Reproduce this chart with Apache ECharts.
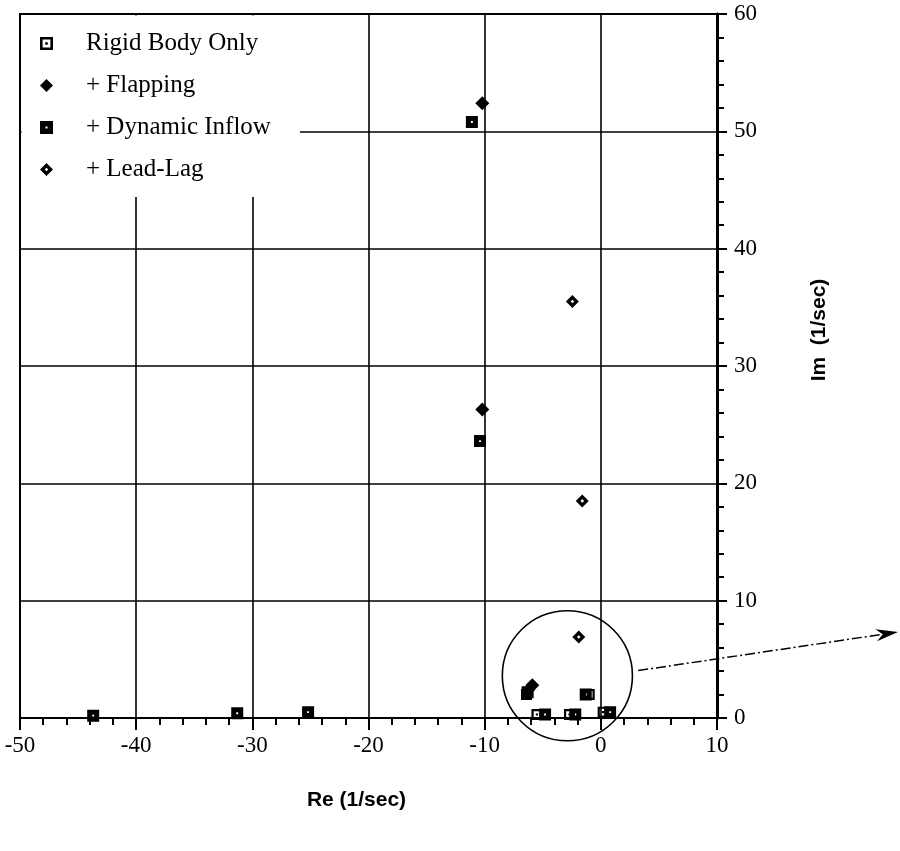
<!DOCTYPE html>
<html>
<head>
<meta charset="utf-8">
<script src="https://cdn.jsdelivr.net/npm/echarts/dist/echarts.min.js"></script>
<style>
  html, body { margin: 0; padding: 0; background: #fff; }
  #chart { width: 900px; height: 851px; }
</style>
</head>
<body>
<div id="chart"></div>
<script>
// Eigenvalue locations (Re, Im) in 1/sec for each model refinement
const seriesNames = ['Rigid Body Only', '+ Flapping', '+ Dynamic Inflow', '+ Lead-Lag'];
const rigidBody = [[-1.0, 2.0], [-6.4, 2.0], [-5.5, 0.3], [-2.7, 0.3], [0.2, 0.5]];
const flapping = [[-10.2, 52.4], [-10.2, 26.3], [-5.9, 2.8]];
const dynamicInflow = [[-11.1, 50.8], [-10.4, 23.6], [-43.7, 0.2], [-31.3, 0.4], [-25.2, 0.5],
                       [-6.3, 2.2], [-4.8, 0.3], [-2.2, 0.3], [0.8, 0.5], [-1.3, 2.0]];
const leadLag = [[-2.45, 35.5], [-1.6, 18.5], [-1.9, 6.9], [-6.2, 2.4]];

// Axis ranges and tick steps
const xTicks = [-50, -40, -30, -20, -10, 0, 10];
const yTicks = [0, 10, 20, 30, 40, 50, 60];

// Marker shapes: hollow square with dot, filled diamond, thick square, hollow diamond
const symRigid = 'path://M0,0 H10 V10 H0 Z M2,2 V8 H8 V2 Z M4,4 H6 V6 H4 Z';
const symFlap = 'path://M5,0 L10,5 L5,10 L0,5 Z';
const symInflow = 'path://M0,0 H10 V10 H0 Z M4.2,4.2 V5.8 H5.8 V4.2 Z';
const symLag = 'path://M5,0 L10,5 L5,10 L0,5 Z M5,3.6 L3.6,5 L5,6.4 L6.4,5 Z';

const serif = 'Liberation Serif';
const sans = 'Liberation Sans';

const chart = echarts.init(document.getElementById('chart'), null, { renderer: 'canvas' });

const mk = (name, data, symbol, size) => ({
  name, type: 'scatter', data, symbol, symbolSize: size,
  itemStyle: { color: '#000', opacity: 1 },
  emphasis: { disabled: true }, z: 3
});

chart.setOption({
  animation: false,
  backgroundColor: '#fff',
  grid: {
    left: 20, right: 183, top: 14, bottom: 133,
    show: true, borderColor: '#000', borderWidth: 2,
    outerBoundsMode: 'none', containLabel: false
  },
  legend: {
    orient: 'vertical', left: 35, top: 26,
    itemWidth: 13, itemHeight: 13, itemGap: 17,
    data: [
      { name: seriesNames[0], icon: symRigid },
      { name: seriesNames[1], icon: symFlap },
      { name: seriesNames[2], icon: symInflow },
      { name: seriesNames[3], icon: symLag }
    ],
    textStyle: { fontFamily: serif, fontSize: 25, color: '#000', lineHeight: 25, padding: [0, 0, 0, 28] },
    selectedMode: false, z: 5
  },
  xAxis: {
    type: 'value',
    min: xTicks[0], max: xTicks[xTicks.length - 1], interval: xTicks[1] - xTicks[0],
    name: 'Re (1/sec)', nameLocation: 'middle', nameGap: 72,
    nameTextStyle: { fontFamily: sans, fontWeight: 'bold', fontSize: 21, color: '#000', padding: [0, 24, 0, 0] },
    axisLine: { onZero: false, lineStyle: { color: '#000', width: 2 } },
    axisTick: { show: true, inside: false, length: 12, lineStyle: { color: '#000', width: 2 } },
    minorTick: { show: true, splitNumber: 5, length: 7, lineStyle: { color: '#000', width: 2 } },
    axisLabel: { fontFamily: serif, fontSize: 23, color: '#000', margin: 16 },
    splitLine: { show: true, lineStyle: { color: '#000', width: 1.6 } }
  },
  yAxis: {
    type: 'value', position: 'right',
    min: yTicks[0], max: yTicks[yTicks.length - 1], interval: yTicks[1] - yTicks[0],
    name: 'Im  (1/sec)', nameLocation: 'middle', nameGap: 92, nameRotate: 90,
    nameTextStyle: { fontFamily: sans, fontWeight: 'bold', fontSize: 21, color: '#000', padding: [0, 0, 0, 72] },
    axisLine: { onZero: false, lineStyle: { color: '#000', width: 3 } },
    axisTick: { show: true, inside: false, length: 10, lineStyle: { color: '#000', width: 2 } },
    minorTick: { show: true, splitNumber: 5, length: 7, lineStyle: { color: '#000', width: 2 } },
    axisLabel: { fontFamily: serif, fontSize: 23, color: '#000', margin: 17 },
    splitLine: { show: true, lineStyle: { color: '#000', width: 1.6 } }
  },
  series: [
    mk(seriesNames[0], rigidBody, symRigid, 11),
    mk(seriesNames[1], flapping, symFlap, 14),
    mk(seriesNames[2], dynamicInflow, symInflow, 12),
    mk(seriesNames[3], leadLag, symLag, 13)
  ]
});

// Legend panel, zoom circle around the slow modes and the pointer arrow
function drawOverlay() {
  const px = (p) => chart.convertToPixel({ gridIndex: 0 }, p);
  const tl = px([-50, 60]);
  const br = px([-25.9, 44.4]);
  const c = px([-2.88, 3.6]);
  const r = px([-2.88 + 5.6, 3.6])[0] - c[0];
  const ang = -0.08;
  const start = [c[0] + r * Math.cos(ang) + 6, c[1] + r * Math.sin(ang)];
  const end = [898, 632];
  const dx = end[0] - start[0], dy = end[1] - start[1];
  const len = Math.hypot(dx, dy), ux = dx / len, uy = dy / len;
  const hl = 22, hw = 6;
  const base = [end[0] - ux * hl, end[1] - uy * hl];
  const notch = [end[0] - ux * hl * 0.7, end[1] - uy * hl * 0.7];
  chart.setOption({
    graphic: [
      { type: 'rect', z: 1, silent: true,
        shape: { x: tl[0] + 1.5, y: tl[1] + 1.5, width: br[0] - tl[0] - 1.5, height: br[1] - tl[1] - 1.5 },
        style: { fill: '#fff' } },
      { type: 'circle', z: 4, silent: true,
        shape: { cx: c[0], cy: c[1], r: r },
        style: { fill: null, stroke: '#000', lineWidth: 1.6 } },
      { type: 'line', z: 4, silent: true,
        shape: { x1: start[0], y1: start[1], x2: base[0] + ux * 4, y2: base[1] + uy * 4 },
        style: { stroke: '#000', lineWidth: 1.5, lineDash: [10, 3, 2, 3] } },
      { type: 'polygon', z: 4, silent: true,
        shape: { points: [end, [base[0] - uy * hw, base[1] + ux * hw], notch, [base[0] + uy * hw, base[1] - ux * hw]] },
        style: { fill: '#000' } }
    ]
  });
}
drawOverlay();
</script>
</body>
</html>
